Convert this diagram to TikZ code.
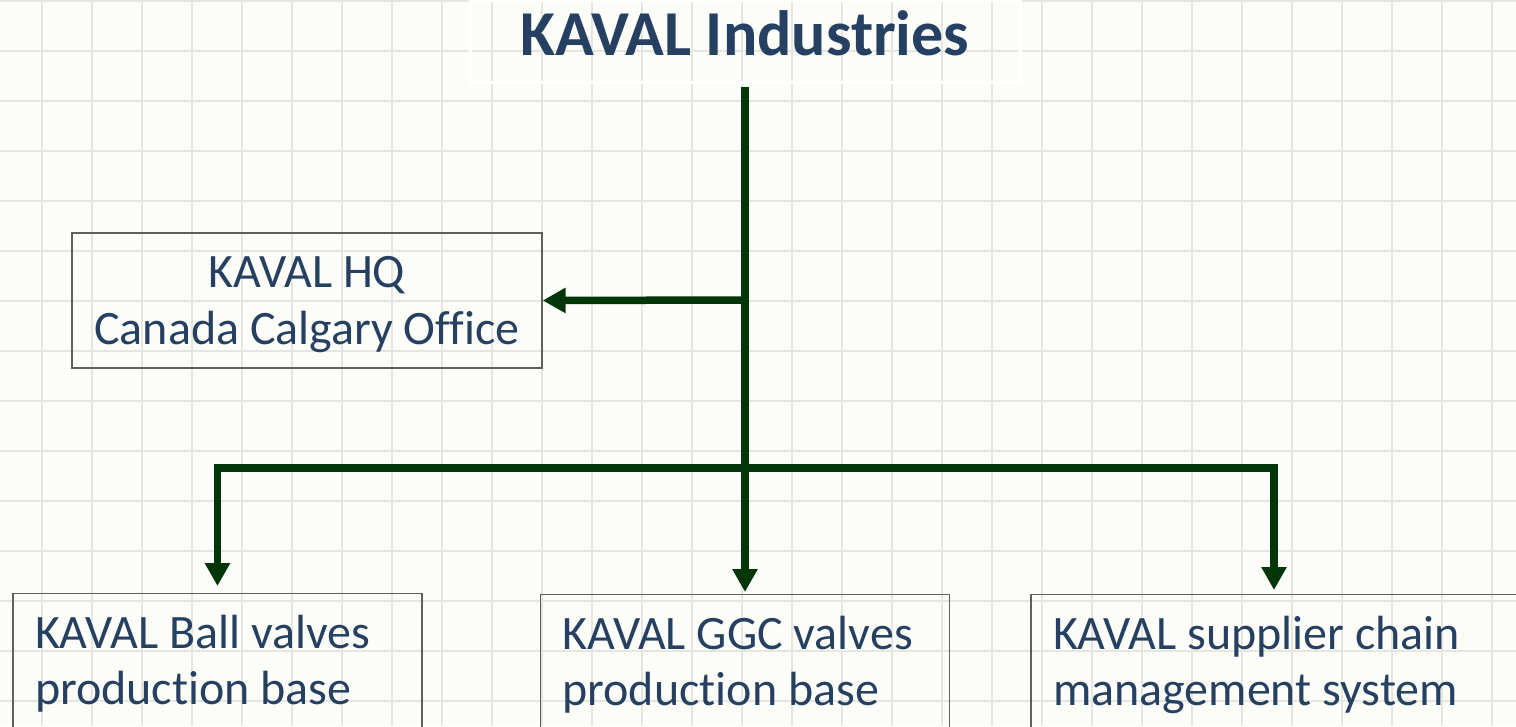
\documentclass[tikz,border=0pt]{standalone}
\usepackage{fontspec}
\setmainfont{Carlito}[Ligatures={NoCommon}]
\usetikzlibrary{arrows.meta}
\definecolor{textblue}{RGB}{38,64,98}
\definecolor{linkgreen}{RGB}{2,54,8}
\definecolor{gridgray}{RGB}{229,230,224}
\definecolor{paper}{RGB}{252,253,248}
\definecolor{boxgray}{RGB}{95,95,95}
\begin{document}
\begin{tikzpicture}[
        x=1pt, y=-1pt,
        font=\fontsize{48}{57}\selectfont,
        text=textblue
    ]
    \tikzset{
        titlebox/.style = {rectangle, draw=white, line width=3pt, minimum width=550pt, minimum height=82pt, text height=46pt, text depth=18pt, font={\fontsize{64}{76}\selectfont\bfseries}},
        hqbox/.style = {rectangle, draw=boxgray, line width=1.3pt, align=center, minimum width=470pt, minimum height=135pt, text depth=0pt},
        unitbox/.style = {rectangle, draw=boxgray, line width=1.3pt, align=left, text width=365pt, inner xsep=22pt, inner ysep=0pt, minimum width=409pt, minimum height=140pt, anchor=north, font={\fontsize{48}{56}\selectfont},
            execute at begin node={\spaceskip=0pt\xspaceskip=0pt}},
        link/.style = {draw=linkgreen, line width=7.5pt, -{Triangle[length=23pt,width=24pt]}}
    }
    % background and grid
    \fill[paper] (0,0) rectangle (1516,726);
    \useasboundingbox (0,0) rectangle (1516,726);
    \foreach \gx in {42,92,...,1516} \draw[gridgray, line width=1.2pt] (\gx,0) -- (\gx,726);
    \foreach \gy in {1,51,...,726} \draw[gridgray, line width=1.2pt] (0,\gy) -- (1516,\gy);
    % boxes
    \node[titlebox] (kaval) at (745,41) {KAVAL Industries};
    \node[hqbox] (hq) at (307,300.5) {KAVAL HQ\\Canada Calgary Office};
    \node[unitbox] (ball) at (217.5,593) {KAVAL Ball valves\\production base};
    \node[unitbox] (ggc) at (745,594) {KAVAL GGC valves\\production base};
    \node[unitbox, minimum width=486pt, text width=442pt] (supply) at (1274,594) {KAVAL supplier chain\\management system};
    % connectors
    \coordinate (hqjoin) at (745,300);
    \coordinate (busjoin) at (745,468);
    \draw[link, shorten <=3pt, shorten >=2pt] (kaval.south) -- (ggc.north);
    \draw[link] (hqjoin) -- (hq.east);
    \draw[link, shorten >=7pt] (busjoin) -| (ball.north);
    \draw[link, shorten >=4pt] (busjoin) -| (supply.north);
\end{tikzpicture}
\end{document}
